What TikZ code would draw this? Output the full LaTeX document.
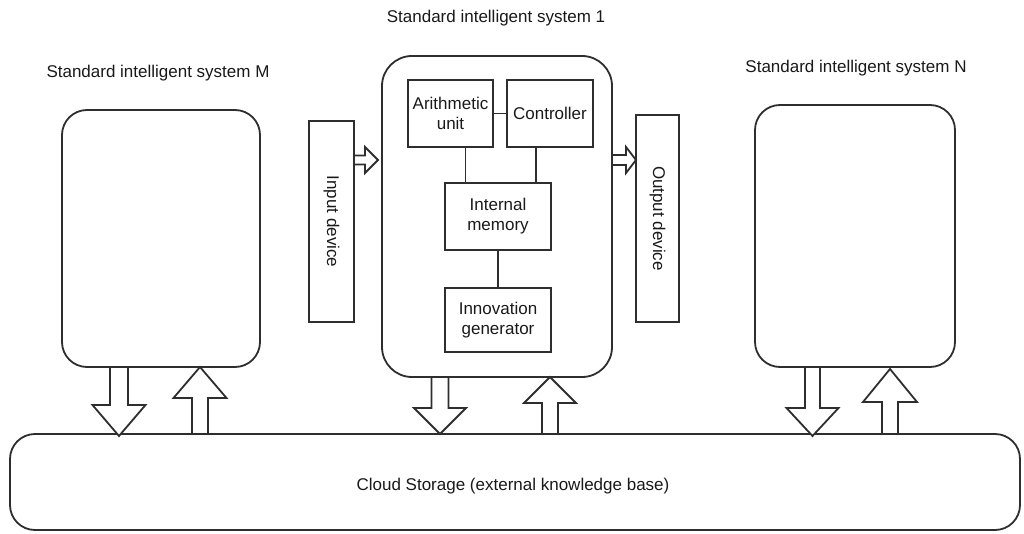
\documentclass[tikz,border=0pt]{standalone}
\usepackage{fontspec}
\setmainfont{Liberation Sans}
\usetikzlibrary{calc}
\definecolor{linecol}{HTML}{2E2E2E}
% vertical block arrow: cx, ytail, ybase, ytip, shaft half width, head half width
\newcommand\blkv[6]{\draw[blk] (#1-#5,#2) -- (#1-#5,#3) -- (#1-#6,#3) -- (#1,#4) -- (#1+#6,#3) -- (#1+#5,#3) -- (#1+#5,#2) -- cycle;}
% horizontal block arrow: cy, xtail, xbase, xtip, shaft half width, head half width
\newcommand\blkh[6]{\draw[blk] (#2,#1-#5) -- (#3,#1-#5) -- (#3,#1-#6) -- (#4,#1) -- (#3,#1+#6) -- (#3,#1+#5) -- (#2,#1+#5) -- cycle;}
\begin{document}
\begin{tikzpicture}[x=1pt,y=-1pt,line width=1.8pt,
  every node/.style={font=\fontsize{17}{20}\selectfont,text=black!90},
  sysbox/.style={draw=linecol,rounded corners=25pt,inner sep=0pt},
  unitbox/.style={draw=linecol,inner sep=0pt,align=center},
  title/.style={anchor=base,inner sep=0pt},
  link/.style={draw=linecol},
  blk/.style={draw=linecol,fill=white,line join=miter}]
\useasboundingbox (0,0) rectangle (1024,534);

% titles
\node[title] (tM) at (158,78) {Standard intelligent system M};
\node[title] (t1) at (496,23) {Standard intelligent system 1};
\node[title] (tN) at (856,73) {Standard intelligent system N};

% system boxes
\node[sysbox,minimum width=198,minimum height=257] (M) at (161,238.5) {};
\node[sysbox,minimum width=200,minimum height=262] (N) at (855,236) {};
\node[sysbox,rounded corners=30pt,minimum width=230,minimum height=321] (S1) at (497,216.5) {};

% cloud
\node[sysbox,minimum width=1010,minimum height=96] (C) at (515,482) {};
\node[inner sep=0pt] (Ctext) at (513,486) {Cloud Storage (external knowledge base)};

% inner units
\node[unitbox,minimum width=85,minimum height=67] (arith) at (450.5,113.5) {Arithmetic\\unit};
\node[unitbox,minimum width=86,minimum height=67] (ctrl) at (550,113.5) {Controller};
\node[unitbox,minimum width=106,minimum height=67] (mem) at (498,216.5) {Internal\\memory};
\node[unitbox,minimum width=106,minimum height=64] (innov) at (498,320) {Innovation\\generator};

% input / output devices
\node[unitbox,rotate=-90,minimum width=201,minimum height=45] (in) at (331.5,221.5) {Input device};
\node[unitbox,rotate=-90,minimum width=207,minimum height=43] (out) at (657.5,218.5) {Output device};

% internal links
\draw[link] (arith.east) -- (ctrl.west);
\draw[link] ([xshift=15pt]arith.south) -- ([xshift=15pt]arith.south |- mem.north);
\draw[link] ([xshift=-14pt]ctrl.south) -- ([xshift=-14pt]ctrl.south |- mem.north);
\draw[link] (mem.south) -- (innov.north);

% input / output arrows
\blkh{160}{354}{365}{378}{4.5}{13}
\blkh{160}{612}{626}{636}{5}{13}

% block arrows to/from cloud
\blkv{119}{367}{405}{436}{9}{26.5}
\blkv{200}{434}{398}{367}{8}{26.5}
\blkv{440}{377}{408}{434}{8.5}{26}
\blkv{550}{434}{403}{377}{8}{26}
\blkv{812.5}{367}{408}{436}{7.5}{26}
\blkv{890}{434}{402}{369}{8}{27}
\end{tikzpicture}
\end{document}
